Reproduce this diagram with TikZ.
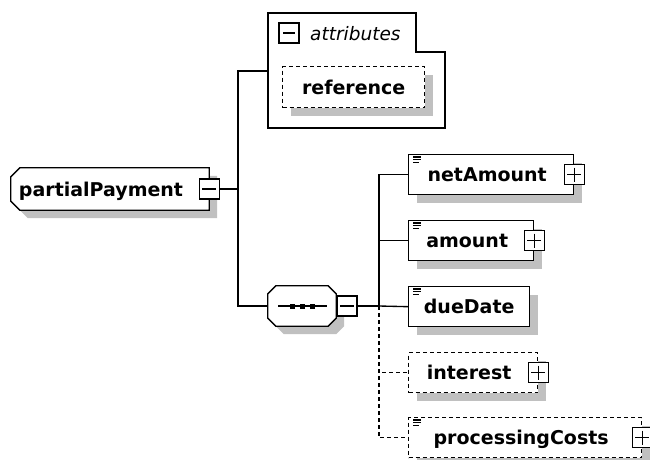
\documentclass[tikz,border=0pt]{standalone}
\usepackage{fontspec}
\setmainfont{DejaVu Sans}
\usetikzlibrary{shadows}
\definecolor{shadowgray}{RGB}{192,192,192}
\pgfdeclarelayer{background}
\pgfsetlayers{background,main}
\newcommand\elemfont{\fontsize{19}{21}\selectfont\bfseries}
\newcommand\attrfont{\fontsize{18.5}{20}\selectfont\itshape}
% octagon-like outline round a node: #1 node, #2 left chamfer, #3 right chamfer
\newcommand\octapath[3]{([shift={(#2,0)}]#1.north west) -- ([shift={(-#3,0)}]#1.north east) -- ([shift={(0,#3)}]#1.north east) -- ([shift={(0,-#3)}]#1.south east) -- ([shift={(-#3,0)}]#1.south east) -- ([shift={(#2,0)}]#1.south west) -- ([shift={(0,-#2)}]#1.south west) -- ([shift={(0,#2)}]#1.north west) -- cycle}
\tikzset{
  base/.style={line width=1.35pt},
  shad/.style={general shadow={fill=shadowgray,draw=none,shadow xshift=8pt,shadow yshift=-8pt}},
  elembox/.style={base, draw, fill=white, rectangle, inner sep=0pt, minimum height=40pt,
    text height=14pt, text depth=0pt, anchor=north west, font=\elemfont, shad},
  optbox/.style={elembox, dash pattern=on 4pt off 3pt},
  conn/.style={base},
  optconn/.style={base, dash pattern=on 4pt off 3pt},
  signbox/.style={base, draw, fill=white, solid, inner sep=0pt, minimum size=20pt},
  minusbox/.style={signbox, path picture={\draw[base] ([xshift=3pt]path picture bounding box.west) -- ([xshift=-3pt]path picture bounding box.east);}},
  plusbox/.style={signbox, path picture={\draw[base] ([xshift=3pt]path picture bounding box.west) -- ([xshift=-3pt]path picture bounding box.east) ([yshift=-3pt]path picture bounding box.north) -- ([yshift=3pt]path picture bounding box.south);}},
  docicon/.pic={\draw[line width=1.1pt] (0,0) -- (8,0) (0,2.8) -- (8,2.8) (0,5.6) -- (6,5.6);},
  octnode/.style={rectangle, inner sep=0pt, text height=14pt, text depth=0pt, font=\elemfont},
  octline/.style={base, draw=black, fill=white},
  octshadow/.style={fill=shadowgray, transform canvas={shift={(8pt,-8pt)}}},
}
\begin{document}
\begin{tikzpicture}[x=1pt,y=-1pt]
\useasboundingbox (0,0) rectangle (650,459);

% attributes group
\draw[base, fill=white] (268,13) -- (416,13) -- (416,52) -- (445,52) -- (445,128) -- (268,128) -- cycle;
\coordinate (attrw) at (268,71);
\node[minusbox, path picture={\draw[base] ([xshift=4pt]path picture bounding box.west) -- ([xshift=-4pt]path picture bounding box.east);}] (attrm) at (289,33) {};
\node[font=\attrfont, anchor=base west, inner sep=0pt] (attrlbl) at (310,40) {attributes};
\node[optbox, minimum width=142pt, minimum height=41pt] (ref) at (282,66) {reference};

% root element
\node[octnode, minimum width=198pt, minimum height=42pt] (pp) at (110,189) {partialPayment\hspace*{18pt}};
\node[minusbox] (ppm) at (pp.east) {};

% sequence compositor
\node[octnode, minimum width=68pt, minimum height=40pt] (seq) at (302,306) {};
\node[minusbox, anchor=west] (seqm) at (seq.east) {};

\begin{pgfonlayer}{background}
  \fill[octshadow] \octapath{pp}{9}{0};
  \path[octline] \octapath{pp}{9}{0};
  \fill[octshadow] \octapath{seq}{8}{8};
  \path[octline] \octapath{seq}{8}{8};
\end{pgfonlayer}
\draw[base] ([xshift=-24pt]seq.center) -- ([xshift=25pt]seq.center);
\foreach \dx in {-10,0,10} \fill ([shift={(\dx-2.5,-2.5)}]seq.center) rectangle ++(5,5);

% child elements
\node[elembox, minimum width=165pt] (nm) at (408,154) {netAmount\hspace*{8pt}};
\node[plusbox] (nmp) at (nm.east) {};
\pic at ([shift={(5,3)}]nm.north west) {docicon};

\node[elembox, minimum width=125pt] (am) at (408,220) {amount\hspace*{8pt}};
\node[plusbox] (amp) at (am.east) {};
\pic at ([shift={(5,3)}]am.north west) {docicon};

\node[elembox, minimum width=121pt] (dd) at (408,286) {dueDate};
\pic at ([shift={(5,3)}]dd.north west) {docicon};

\node[optbox, minimum width=129pt] (it) at (408,352) {interest\hspace*{8pt}};
\node[plusbox] (itp) at (it.east) {};

\node[optbox, minimum width=233pt] (pc) at (408,417) {processingCosts\hspace*{8pt}};
\node[plusbox] (pcp) at (pc.east) {};
\pic at ([shift={(5,3)}]pc.north west) {docicon};

% connectors
\coordinate (j1) at (238,189);
\coordinate (j2) at (379,306);
\draw[conn] (ppm.east) -- (j1);
\draw[conn] (attrw) -| (j1) |- (seq.west);
\draw[conn] (seqm.east) -- (j2);
\draw[conn] (nm.west) -| (j2);
\draw[conn] (am.west) -- (am.west -| j2);
\draw[conn] (j2) -- (dd.west);
\draw[optconn] (j2) |- (it.west);
\draw[optconn] (j2) |- (pc.west);
\end{tikzpicture}
\end{document}
